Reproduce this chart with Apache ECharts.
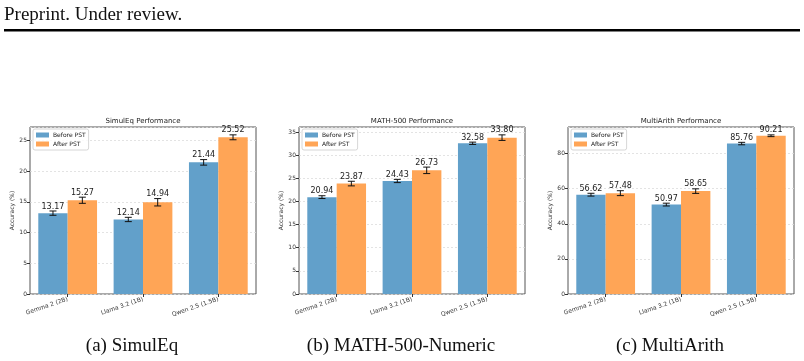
<!DOCTYPE html>
<html>
<head>
<meta charset="utf-8">
<script src="https://cdn.jsdelivr.net/npm/echarts@6/dist/echarts.min.js"></script>
<style>
  html, body { margin: 0; padding: 0; background: #fff; }
  #chart { width: 804px; height: 361px; }
</style>
</head>
<body>
<div id="chart"></div>
<script>
const models = ['Gemma 2 (2B)', 'Llama 3.2 (1B)', 'Qwen 2.5 (1.5B)']

const simulBefore = [13.17, 12.14, 21.44]
const simulAfter = [15.27, 14.94, 25.52]
const simulBeforeErr = [0.35, 0.35, 0.45]
const simulAfterErr = [0.5, 0.6, 0.4]

const mathBefore = [20.94, 24.43, 32.58]
const mathAfter = [23.87, 26.73, 33.80]
const mathBeforeErr = [0.3, 0.35, 0.25]
const mathAfterErr = [0.5, 0.7, 0.6]

const arithBefore = [56.62, 50.97, 85.76]
const arithAfter = [57.48, 58.65, 90.21]
const arithBeforeErr = [0.8, 0.8, 0.7]
const arithAfterErr = [1.4, 1.3, 0.5]

const panelTitles = ['SimulEq Performance', 'MATH-500 Performance', 'MultiArith Performance']
const captions = ['(a) SimulEq', '(b) MATH-500-Numeric', '(c) MultiArith']
const yMax = [27.2, 36.1, 95.2]
const yStep = [5, 5, 20]

const blue = '#62a0ca'
const orange = '#ffa556'
const gridLeft = [30, 299, 568]
const gridTop = 127
const gridW = 226
const gridH = 167
const barFrac = 0.39

const panels = [
  [simulBefore, simulAfter, simulBeforeErr, simulAfterErr],
  [mathBefore, mathAfter, mathBeforeErr, mathAfterErr],
  [arithBefore, arithAfter, arithBeforeErr, arithAfterErr]
]

const chart = echarts.init(document.getElementById('chart'))

const grids = []
const xAxes = []
const yAxes = []
const titles = []
const legends = []
const series = []
const graphics = []

// error bar + value label drawn at the bar's own slot
const errRender = (shift) => (params, api) => {
  const v = api.value(1)
  const e = api.value(2)
  const band = api.size([1, 0])[0]
  const x = api.coord([api.value(0), v])[0] + shift * band * barFrac / 2
  const top = api.coord([api.value(0), v + e])[1]
  const bot = api.coord([api.value(0), v - e])[1]
  const cap = 3.5
  const ls = { stroke: '#111', lineWidth: 1 }
  return {
    type: 'group',
    children: [
      { type: 'line', shape: { x1: x, y1: top, x2: x, y2: bot }, style: ls },
      { type: 'line', shape: { x1: x - cap, y1: top, x2: x + cap, y2: top }, style: ls },
      { type: 'line', shape: { x1: x - cap, y1: bot, x2: x + cap, y2: bot }, style: ls },
      {
        type: 'text',
        style: {
          x: x, y: top - 0.5, text: v.toFixed(2),
          font: '8px "DejaVu Sans"', fill: '#222',
          align: 'center', verticalAlign: 'bottom'
        }
      }
    ]
  }
}

panels.forEach((p, i) => {
  const [before, after, bErr, aErr] = p
  grids.push({
    left: gridLeft[i], top: gridTop, width: gridW, height: gridH,
    show: true, borderColor: '#555', borderWidth: 1, backgroundColor: 'transparent'
  })
  xAxes.push({
    type: 'category', gridIndex: i, data: models,
    axisLine: { show: false },
    axisTick: { show: true, alignWithLabel: true, length: 3, lineStyle: { color: '#333' } },
    axisLabel: { rotate: 19, fontSize: 6, color: '#333', margin: 5, interval: 0, fontFamily: 'DejaVu Sans' }
  })
  yAxes.push({
    type: 'value', gridIndex: i, min: 0, max: yMax[i], interval: yStep[i],
    name: 'Accuracy (%)', nameLocation: 'middle', nameGap: 15,
    nameTextStyle: { fontSize: 6, color: '#333', fontFamily: 'DejaVu Sans' },
    axisLine: { show: false },
    axisTick: { show: true, length: 3, lineStyle: { color: '#333' } },
    axisLabel: { fontSize: 6, color: '#333', margin: 3, showMaxLabel: false, fontFamily: 'DejaVu Sans' },
    splitLine: { show: true, lineStyle: { color: '#dcdcdc', type: [2, 2], width: 0.8 } }
  })
  titles.push({
    text: panelTitles[i], left: gridLeft[i] + gridW / 2, top: 118, textAlign: 'center', padding: 0,
    textStyle: { fontSize: 7, fontWeight: 'normal', color: '#222', fontFamily: 'DejaVu Sans' }
  })
  legends.push({
    orient: 'vertical', left: gridLeft[i] + 3, top: gridTop + 2,
    data: ['Before PST', 'After PST'],
    itemWidth: 13, itemHeight: 5, itemGap: 3, icon: 'rect',
    padding: [3, 3, 3, 3], borderColor: '#ccc', borderWidth: 0.8, borderRadius: 2,
    backgroundColor: 'rgba(255,255,255,0.8)',
    textStyle: { fontSize: 6, color: '#222', fontFamily: 'DejaVu Sans', padding: [0, 0, 0, -1] }
  })
  series.push({
    name: 'Before PST', type: 'bar', xAxisIndex: i, yAxisIndex: i,
    data: before, barWidth: (barFrac * 100) + '%', barGap: '0%',
    itemStyle: { color: blue }, animation: false
  })
  series.push({
    name: 'After PST', type: 'bar', xAxisIndex: i, yAxisIndex: i,
    data: after, barWidth: (barFrac * 100) + '%', barGap: '0%',
    itemStyle: { color: orange }, animation: false
  })
  series.push({
    type: 'custom', xAxisIndex: i, yAxisIndex: i, z: 5,
    data: before.map((v, k) => [k, v, bErr[k]]),
    renderItem: errRender(-1), animation: false
  })
  series.push({
    type: 'custom', xAxisIndex: i, yAxisIndex: i, z: 5,
    data: after.map((v, k) => [k, v, aErr[k]]),
    renderItem: errRender(1), animation: false
  })
  graphics.push({
    type: 'text', x: gridLeft[i] + 102, y: 346,
    style: {
      text: captions[i], font: '19px "Liberation Serif"', fill: '#111',
      align: 'center', verticalAlign: 'middle'
    }
  })
})

graphics.push({
  type: 'text', x: 4, y: 15,
  style: { text: 'Preprint. Under review.', font: '19px "Liberation Serif"', fill: '#111', align: 'left', verticalAlign: 'middle' }
})
graphics.push({
  type: 'rect', shape: { x: 4, y: 29, width: 796, height: 2.5 }, style: { fill: '#000' }
})

chart.setOption({
  backgroundColor: '#fff',
  animation: false,
  title: titles,
  legend: legends,
  grid: grids,
  xAxis: xAxes,
  yAxis: yAxes,
  series: series,
  graphic: graphics
})
</script>
</body>
</html>
